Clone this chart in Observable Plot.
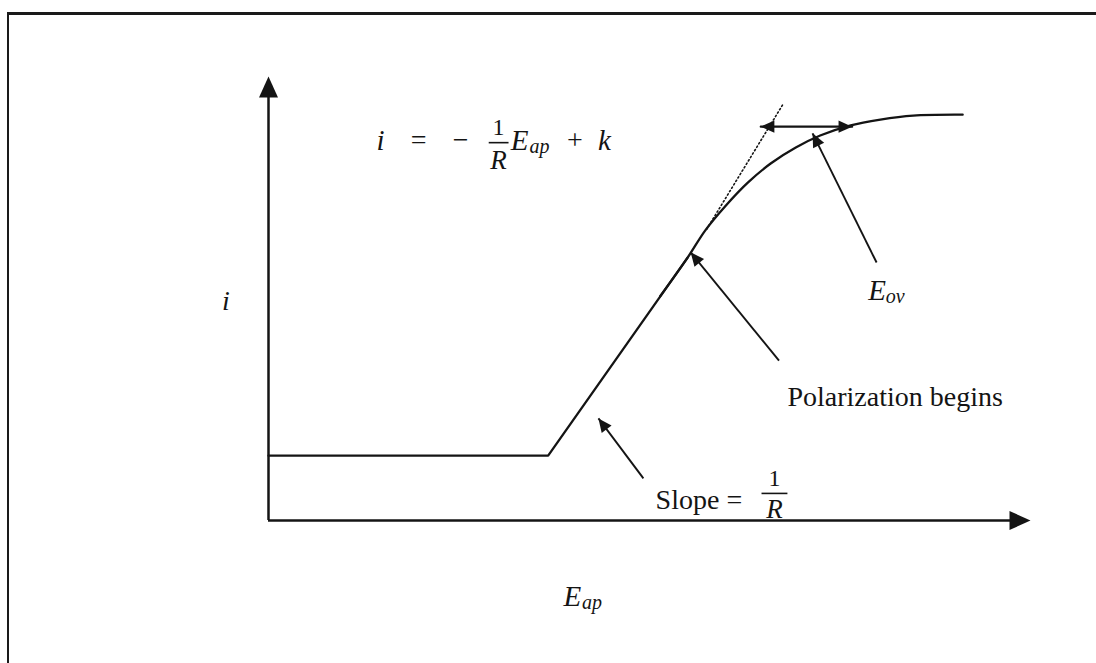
<!DOCTYPE html>
<html><head><meta charset="utf-8">
<script src="https://cdn.jsdelivr.net/npm/d3@7"></script>
<script src="https://cdn.jsdelivr.net/npm/@observablehq/plot@0.6"></script>
<style>
body{margin:0;background:#fff;}
#wrap{position:relative;width:1096px;height:663px;overflow:hidden;}
#frame{position:absolute;left:7px;top:12px;width:1200px;height:800px;border-top:3px solid #1a1a1a;border-left:2px solid #1a1a1a;pointer-events:none;}
#wrap svg{position:absolute;left:0;top:0;}
</style></head><body>
<div id="wrap"><div id="frame"></div></div>
<script>
// ---- data (E_ap on x, i on y, arbitrary units 0..100) ----
const lineE = [0, 36.7, 55.0];
const lineI = [14.6, 14.6, 59.2];
const bendE = [51.4, 55.0, 57.3, 60.0, 62.9, 65.9, 69.2, 72.4, 76.4, 80.3, 84.6, 91.1];
const bendI = [50.5, 59.2, 65.3, 70.9, 76.1, 80.4, 84.0, 86.7, 89.0, 90.3, 91.2, 91.4];
const tangentE = [57.5, 67.5];
const tangentI = [65.6, 93.7];
// overvoltage double arrow
const ovE = [64.6, 76.6];
const ovI = [88.7, 88.7];
// pointer arrows (tail -> tip)
const pointerNames = ["Eov", "Polarization", "Slope"];
const tailE = [79.8, 67.0, 49.2];
const tailI = [58.1, 36.0, 9.5];
const tipE = [71.4, 55.4, 43.3];
const tipI = [87.2, 60.4, 23.0];
// text labels
const mainLabels = ["i", "Polarization begins", "Slope ="];
const mainE = [-5.6, 68.1, 50.8];
const mainI = [49.5, 27.9, 4.5];
const mainItalic = [true, false, false];
const eqTokens = ["i", "=", "\u2212", "+", "k"];
const eqE = [14.7, 19.7, 25.2, 40.2, 44.1];
const eqI = [85.6, 85.6, 85.6, 85.6, 85.6];
const eqItalic = [true, false, false, false, true];
// fractions 1/R (equation, slope label)
const fracE = [30.2, 66.4];
const fracNumI = [88.6, 9.4];
const fracDenI = [81.1, 2.6];
const fracBarI = [85.1, 6.1];
const fracHalfW = [1.3, 1.7];
// subscripted symbols
const subBase = ["E", "E", "E"];
const subText = ["ap", "ov", "ap"];
const subE = [31.8, 78.7, 38.7];
const subI = [85.6, 51.8, -17.1];
const subOffE = [2.45, 2.3, 2.45];

// ---- layout ----
const W = 1096, H = 663, mL = 268, mR = 66, mT = 76, mB = 143;
const pxX = (W - mL - mR) / 100, pxY = (H - mT - mB) / 100;
const ink = "#141414";
const serif = "Liberation Serif, Times New Roman, serif";

const arrowHead = {
  draw(ctx, size) {
    const r = Math.sqrt(size / Math.PI);
    ctx.moveTo(0, 0);
    ctx.lineTo(-0.95 * r, 2.1 * r);
    ctx.lineTo(0.95 * r, 2.1 * r);
    ctx.closePath();
  }
};
const angle = (x1, y1, x2, y2) => Math.atan2((x2 - x1) * pxX, (y2 - y1) * pxY) * 180 / Math.PI;

const lineData = lineE.map((e, k) => ({e, i: lineI[k]}));
const bendData = bendE.map((e, k) => ({e, i: bendI[k]}));
const tanData = tangentE.map((e, k) => ({e, i: tangentI[k]}));
const pointers = pointerNames.map((n, k) => ({n, x1: tailE[k], y1: tailI[k], x2: tipE[k], y2: tipI[k], rot: angle(tailE[k], tailI[k], tipE[k], tipI[k])}));
const axisHeads = [{x: 0, y: 100, rot: 0}, {x: 100, y: 0, rot: 90}];
const ovHeads = [{x: ovE[0], y: ovI[0], rot: -90}, {x: ovE[1], y: ovI[1], rot: 90}];
const mains = mainLabels.map((t, k) => ({t, x: mainE[k], y: mainI[k], it: mainItalic[k]}));
const eqs = eqTokens.map((t, k) => ({t, x: eqE[k], y: eqI[k], it: eqItalic[k]}));
const fracs = fracE.map((x, k) => ({x, yn: fracNumI[k], yd: fracDenI[k], yb: fracBarI[k], w: fracHalfW[k]}));
const subs = subBase.map((b, k) => ({b, s: subText[k], x: subE[k], y: subI[k], dx: subOffE[k]}));

const T = {fontFamily: serif, fill: ink};

const chart = Plot.plot({
  width: W, height: H,
  marginLeft: mL, marginRight: mR, marginTop: mT, marginBottom: mB,
  x: {domain: [0, 100], axis: null},
  y: {domain: [0, 100], axis: null},
  style: {background: "transparent", overflow: "visible"},
  marks: [
    // axes
    Plot.ruleX([0], {y1: 0, y2: 97, stroke: ink, strokeWidth: 2.5}),
    Plot.ruleY([0], {x1: 0, x2: 98, stroke: ink, strokeWidth: 2.5}),
    Plot.dot(axisHeads, {x: "x", y: "y", rotate: "rot", r: 10, symbol: arrowHead, fill: ink, stroke: "none"}),
    // curve
    Plot.line(lineData, {x: "e", y: "i", stroke: ink, strokeWidth: 2.3}),
    Plot.line(bendData, {x: "e", y: "i", stroke: ink, strokeWidth: 2.3, curve: "catmull-rom"}),
    Plot.line(tanData, {x: "e", y: "i", stroke: ink, strokeWidth: 1.6, strokeDasharray: "1.4,2.6"}),
    // overvoltage double arrow
    Plot.line(ovE.map((e, k) => ({e, i: ovI[k]})), {x: "e", y: "i", stroke: ink, strokeWidth: 2.2}),
    Plot.dot(ovHeads, {x: "x", y: "y", rotate: "rot", r: 6.5, symbol: arrowHead, fill: ink, stroke: "none"}),
    // pointers
    Plot.link(pointers, {x1: "x1", y1: "y1", x2: "x2", y2: "y2", stroke: ink, strokeWidth: 1.9}),
    Plot.dot(pointers, {x: "x2", y: "y2", rotate: "rot", r: 6.5, symbol: arrowHead, fill: ink, stroke: "none"}),
    // labels
    Plot.text(mains.filter(d => d.it), {...T, textAnchor: "middle", x: "x", y: "y", text: "t", fontSize: 28, fontStyle: "italic"}),
    Plot.text(mains.filter(d => !d.it), {...T, textAnchor: "start", x: "x", y: "y", text: "t", fontSize: 28}),
    Plot.text(eqs.filter(d => d.it), {...T, textAnchor: "middle", x: "x", y: "y", text: "t", fontSize: 29, fontStyle: "italic"}),
    Plot.text(eqs.filter(d => !d.it), {...T, textAnchor: "middle", x: "x", y: "y", text: "t", fontSize: 28}),
    Plot.text(fracs, {...T, textAnchor: "middle", x: "x", y: "yn", text: () => "1", fontSize: 24}),
    Plot.text(fracs, {...T, textAnchor: "middle", x: "x", y: "yd", text: () => "R", fontSize: 27, fontStyle: "italic"}),
    Plot.link(fracs, {x1: d => d.x - d.w, x2: d => d.x + d.w, y1: "yb", y2: "yb", stroke: ink, strokeWidth: 1.6}),
    Plot.text(subs, {...T, textAnchor: "start", x: "x", y: "y", text: "b", fontSize: 29, fontStyle: "italic"}),
    Plot.text(subs, {...T, textAnchor: "start", x: d => d.x + d.dx, y: "y", dy: 6, text: "s", fontSize: 20, fontStyle: "italic"})
  ]
});
document.getElementById("wrap").appendChild(chart);
</script>
</body></html>
